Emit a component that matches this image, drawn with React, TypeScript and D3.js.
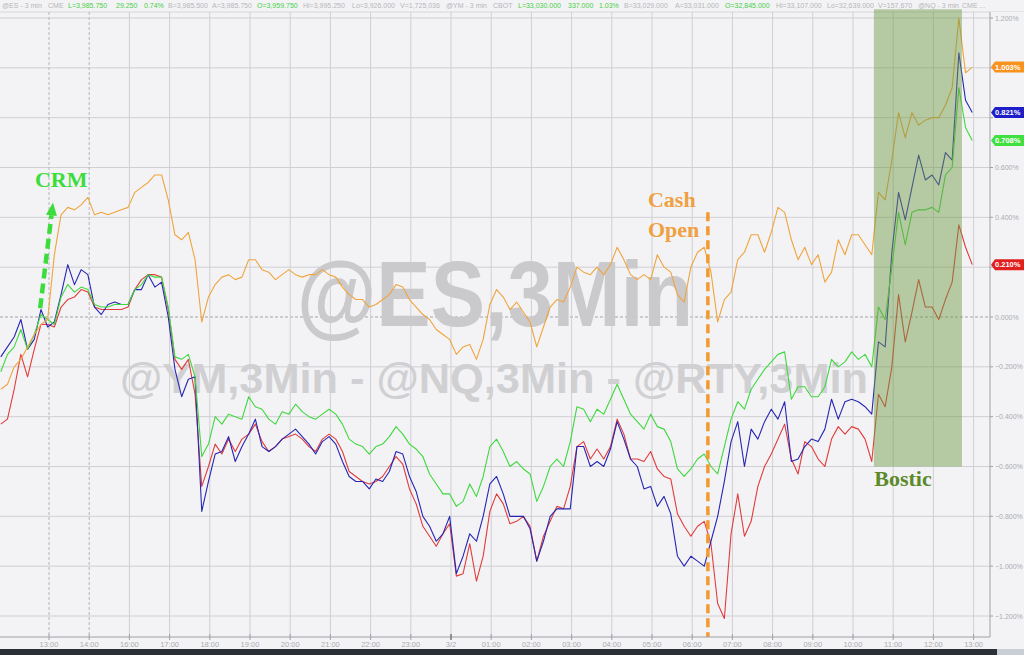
import React from "react";
import * as d3 from "d3";

const W = 1024;
const H = 655;

// x is measured in hours after 13:00 (chart ticks are one per hour, 15:00 skipped)
// one reading every 10 minutes, starting a little before the first tick
const T0 = -1.2;
const STEP = 1 / 6;

const tickLabels = ["13:00", "14:00", "16:00", "17:00", "18:00", "19:00", "20:00", "21:00", "22:00", "23:00", "3/2",
  "01:00", "02:00", "03:00", "04:00", "05:00", "06:00", "07:00", "08:00", "09:00", "10:00", "11:00", "12:00", "13:00"];
const yTicks = [-1.2, -1.0, -0.8, -0.6, -0.4, -0.2, 0, 0.2, 0.4, 0.6, 0.8, 1.0, 1.2];

// % change, orange
const nq = [-0.29, -0.27, -0.20, -0.17, -0.12, -0.07, -0.03, -0.01, 0.25, 0.41,
  0.44, 0.43, 0.45, 0.48, 0.41, 0.42, 0.41, 0.42, 0.43, 0.44,
  0.50, 0.52, 0.54, 0.57, 0.57, 0.47, 0.33, 0.31, 0.34, 0.23,
  -0.02, 0.08, 0.13, 0.16, 0.17, 0.15, 0.16, 0.23, 0.23, 0.19,
  0.18, 0.15, 0.17, 0.19, 0.17, 0.16, 0.17, 0.17, 0.19, 0.17,
  0.16, 0.12, 0.09, 0.07, 0.07, 0.04, 0.05, 0.07, 0.09, 0.13,
  0.12, 0.07, 0.04, 0.01, -0.01, -0.05, -0.07, -0.09, -0.15, -0.12,
  -0.11, -0.17, -0.09, 0.05, 0.11, 0.08, 0.03, 0.06, 0.02, -0.02,
  -0.12, -0.04, 0.04, 0.07, 0.06, 0.12, 0.20, 0.18, 0.17, 0.20,
  0.17, 0.21, 0.28, 0.23, 0.17, 0.15, 0.17, 0.15, 0.25, 0.20,
  0.18, 0.09, 0.06, 0.20, 0.26, 0.28, 0.18, -0.02, 0.07, 0.10,
  0.23, 0.26, 0.33, 0.33, 0.26, 0.34, 0.44, 0.42, 0.31, 0.23,
  0.28, 0.21, 0.25, 0.14, 0.18, 0.31, 0.25, 0.33, 0.33, 0.29,
  0.25, 0.50, 0.47, 0.63, 0.82, 0.72, 0.82, 0.77, 0.79, 0.80,
  0.80, 0.85, 0.92, 1.20, 0.98, 1.003];

// blue
const es = [-0.16, -0.12, -0.08, -0.01, -0.13, -0.09, 0.03, -0.04, -0.02, 0.09,
  0.21, 0.13, 0.19, 0.17, 0.04, 0.01, 0.05, 0.06, 0.05, 0.05,
  0.11, 0.11, 0.17, 0.12, 0.14, 0.00, -0.21, -0.32, -0.25, -0.24,
  -0.78, -0.66, -0.55, -0.54, -0.48, -0.58, -0.52, -0.47, -0.41, -0.52,
  -0.54, -0.52, -0.49, -0.47, -0.45, -0.48, -0.51, -0.55, -0.50, -0.48,
  -0.51, -0.58, -0.64, -0.66, -0.66, -0.69, -0.65, -0.66, -0.62, -0.54,
  -0.55, -0.64, -0.70, -0.80, -0.84, -0.90, -0.87, -0.80, -1.03, -0.96,
  -0.87, -0.90, -0.80, -0.67, -0.64, -0.71, -0.80, -0.80, -0.80, -0.85,
  -0.98, -0.90, -0.80, -0.77, -0.77, -0.77, -0.52, -0.52, -0.60, -0.58,
  -0.60, -0.53, -0.42, -0.49, -0.57, -0.60, -0.69, -0.68, -0.76, -0.72,
  -0.79, -0.96, -1.00, -0.96, -0.98, -1.00, -0.90, -0.80, -0.66, -0.50,
  -0.42, -0.60, -0.45, -0.49, -0.42, -0.37, -0.41, -0.34, -0.58, -0.57,
  -0.52, -0.49, -0.50, -0.45, -0.33, -0.41, -0.34, -0.33, -0.34, -0.36,
  -0.39, -0.10, -0.12, 0.26, 0.50, 0.39, 0.52, 0.65, 0.55, 0.57,
  0.53, 0.66, 0.63, 1.06, 0.87, 0.821];

// green
const ym = [-0.22, -0.15, -0.12, -0.05, -0.13, -0.07, 0.01, -0.01, -0.03, 0.08,
  0.13, 0.10, 0.12, 0.11, 0.05, 0.04, 0.04, 0.05, 0.05, 0.05,
  0.11, 0.13, 0.17, 0.16, 0.16, 0.04, -0.16, -0.17, -0.15, -0.24,
  -0.56, -0.51, -0.40, -0.43, -0.39, -0.40, -0.41, -0.32, -0.36, -0.37,
  -0.41, -0.43, -0.38, -0.39, -0.35, -0.38, -0.40, -0.41, -0.39, -0.37,
  -0.39, -0.43, -0.49, -0.51, -0.52, -0.55, -0.52, -0.51, -0.48, -0.44,
  -0.47, -0.51, -0.53, -0.56, -0.63, -0.67, -0.71, -0.71, -0.76, -0.74,
  -0.67, -0.72, -0.64, -0.52, -0.49, -0.54, -0.60, -0.58, -0.61, -0.63,
  -0.74, -0.68, -0.60, -0.57, -0.60, -0.50, -0.36, -0.37, -0.42, -0.37,
  -0.39, -0.33, -0.27, -0.33, -0.39, -0.42, -0.45, -0.39, -0.44, -0.45,
  -0.50, -0.61, -0.64, -0.61, -0.57, -0.55, -0.60, -0.63, -0.52, -0.41,
  -0.34, -0.37, -0.29, -0.25, -0.21, -0.18, -0.15, -0.14, -0.33, -0.28,
  -0.28, -0.32, -0.32, -0.28, -0.17, -0.20, -0.18, -0.14, -0.17, -0.15,
  -0.20, 0.04, -0.01, 0.20, 0.42, 0.29, 0.42, 0.43, 0.43, 0.44,
  0.42, 0.57, 0.60, 0.92, 0.76, 0.708];

// red
const rty = [-0.43, -0.41, -0.29, -0.15, -0.24, -0.13, -0.03, -0.03, -0.04, 0.04,
  0.07, 0.08, 0.11, 0.10, 0.04, 0.03, 0.03, 0.03, 0.03, 0.04,
  0.11, 0.15, 0.17, 0.17, 0.16, 0.03, -0.17, -0.21, -0.17, -0.31,
  -0.68, -0.60, -0.51, -0.55, -0.49, -0.54, -0.49, -0.47, -0.43, -0.50,
  -0.54, -0.52, -0.49, -0.48, -0.47, -0.49, -0.52, -0.54, -0.49, -0.47,
  -0.49, -0.54, -0.62, -0.64, -0.66, -0.67, -0.66, -0.64, -0.60, -0.56,
  -0.59, -0.69, -0.75, -0.84, -0.88, -0.92, -0.87, -0.83, -1.04, -1.03,
  -0.91, -1.06, -0.96, -0.78, -0.71, -0.75, -0.83, -0.82, -0.80, -0.84,
  -0.98, -0.88, -0.82, -0.76, -0.77, -0.68, -0.52, -0.50, -0.57, -0.53,
  -0.57, -0.52, -0.41, -0.47, -0.57, -0.57, -0.58, -0.54, -0.61, -0.64,
  -0.65, -0.79, -0.84, -0.88, -0.84, -0.82, -0.91, -1.15, -1.21, -0.87,
  -0.71, -0.88, -0.82, -0.68, -0.60, -0.55, -0.49, -0.43, -0.57, -0.63,
  -0.50, -0.52, -0.57, -0.60, -0.49, -0.44, -0.47, -0.44, -0.45, -0.49,
  -0.58, -0.31, -0.36, -0.20, 0.09, -0.10, 0.02, 0.15, 0.04, 0.04,
  -0.01, 0.07, 0.14, 0.37, 0.28, 0.21];

const series = [
  { name: "RTY", values: rty, stroke: "#e23b3b", tag: "#e21f1f" },
  { name: "ES", values: es, stroke: "#2626b4", tag: "#1e1ec8" },
  { name: "YM", values: ym, stroke: "#3fd83f", tag: "#3fe03f" },
  { name: "NQ", values: nq, stroke: "#f0a43c", tag: "#f7931e" },
];

const headerParts: [string, boolean][] = [
  ["@ES - 3 min", false], ["CME", false], ["L=3,985.750", true], ["29.250", true], ["0.74%", true],
  ["B=3,985.500", false], ["A=3,985.750", false], ["O=3,959.750", true], ["Hi=3,995.250", false],
  ["Lo=3,926.000", false], ["V=1,725,036", false], ["@YM - 3 min", false], ["CBOT", false],
  ["L=33,030.000", true], ["337.000", true], ["1.03%", true], ["B=33,029.000", false],
  ["A=33,031.000", false], ["O=32,845.000", true], ["Hi=33,107.000", false], ["Lo=32,639.000", false],
  ["V=157,670", false], ["@NQ - 3 min", false], ["CME ...", false],
];
const headerX = [2, 48, 68, 116, 144, 168, 212, 257, 303, 352, 400, 446, 493, 518, 568, 599, 624,
  675, 725, 776, 827, 878, 918, 962];

const App: React.FC = () => {
  const x = d3.scaleLinear().domain([0, 23]).range([49, 973.6]);
  const y = d3.scaleLinear().domain([-1.2, 1.2]).range([616, 18]);
  const plotRight = 990;
  const plotTop = 12;
  const axisY = 637;

  const line = d3.line<number>()
    .x((_, i) => x(T0 + i * STEP))
    .y((d) => y(d));

  const fmt = (v: number) => d3.format(".3f")(v) + "%";

  // the coloured last-value tags hide the axis labels they sit on
  const lastYs = series.map((s) => y(s.values[s.values.length - 1]));
  const hidden = (v: number) => lastYs.some((ty) => Math.abs(ty - y(v)) < 9);

  // CRM arrow
  const a0 = [x(-0.22), y(0.035)];
  const a1 = [x(0.1), y(0.46)];
  const dx = a1[0] - a0[0], dy = a1[1] - a0[1];
  const len = Math.hypot(dx, dy);
  const ux = dx / len, uy = dy / len;
  const headLen = 13, headW = 5.5;
  const bx = a1[0] - ux * headLen, by = a1[1] - uy * headLen;
  const head = `M${a1[0]},${a1[1]} L${bx - uy * headW},${by + ux * headW} L${bx + uy * headW},${by - ux * headW} Z`;

  const cashX = x(16.39);
  const bostic0 = x(20.52), bostic1 = x(22.71);

  return (
    <svg width={W} height={H} style={{ display: "block" }} fontFamily="'Liberation Sans', Arial, sans-serif">
      <style>{`body{margin:0;}`}</style>
      <rect width={W} height={H} fill="#f3f3f5" />

      {/* header */}
      {headerParts.map(([t, g], i) => (
        <text key={i} x={headerX[i]} y={8} fontSize={7} fill={g ? "#47cf47" : "#b6b6ba"}>{t}</text>
      ))}
      <line x1={0} x2={W} y1={plotTop} y2={plotTop} stroke="#d6d6da" />

      {/* grid */}
      {yTicks.map((v) => (
        <line key={v} x1={0} x2={plotRight} y1={y(v)} y2={y(v)}
          stroke={v === 0 ? "#a4a4aa" : "#cfcfd4"} strokeDasharray={v === 0 ? "3,2" : undefined} />
      ))}
      {tickLabels.map((t, i) => (
        <line key={i} x1={x(i)} x2={x(i)} y1={plotTop} y2={axisY}
          stroke={i < 2 ? "#b4b4bc" : "#cfcfd4"} strokeDasharray={i < 2 ? "3,2" : undefined} />
      ))}

      {/* watermark */}
      <text x={297} y={326} fontSize={92} fontWeight="bold" fill="#cacacd" textLength={396} lengthAdjust="spacingAndGlyphs">@ES,3Min</text>
      <text x={120} y={393} fontSize={42} fontWeight="bold" fill="#d0d0d3" textLength={748} lengthAdjust="spacingAndGlyphs">@YM,3Min - @NQ,3Min - @RTY,3Min</text>

      {/* series */}
      <g fill="none" strokeWidth={1.1} strokeLinejoin="round">
        {series.map((s) => (
          <path key={s.name} d={line(s.values) || ""} stroke={s.stroke} />
        ))}
      </g>

      {/* Bostic shading */}
      <rect x={bostic0} y={y(1.235)} width={bostic1 - bostic0} height={y(-0.6) - y(1.235)} fill="#6f9a45" opacity={0.47} />
      <text x={x(20.53)} y={y(-0.68)} fontSize={22} fontWeight="bold" fill="#5b8a2a" fontFamily="'Liberation Serif', 'Times New Roman', serif">Bostic</text>

      {/* CRM */}
      <line x1={a0[0]} y1={a0[1]} x2={bx} y2={by} stroke="#3ddc3d" strokeWidth={4.5} strokeDasharray="10,5" />
      <path d={head} fill="#3ddc3d" />
      <text x={x(-0.35)} y={y(0.52)} fontSize={22} fontWeight="bold" fill="#3ddc3d" fontFamily="'Liberation Serif', 'Times New Roman', serif">CRM</text>

      {/* Cash open */}
      <line x1={cashX} x2={cashX} y1={y(0.42)} y2={axisY} stroke="#f29a2e" strokeWidth={3.5} strokeDasharray="9,5" />
      <g fontSize={22} fontWeight="bold" fill="#f0a040" fontFamily="'Liberation Serif', 'Times New Roman', serif">
        <text x={x(14.9)} y={y(0.44)}>Cash</text>
        <text x={x(14.9)} y={y(0.32)}>Open</text>
      </g>

      {/* right axis */}
      <rect x={plotRight} y={plotTop} width={W - plotRight} height={axisY - plotTop} fill="#f3f3f5" />
      <line x1={plotRight} x2={plotRight} y1={plotTop} y2={axisY} stroke="#a0a0a6" />
      {yTicks.map((v) => (
        <g key={v}>
          <line x1={plotRight} x2={plotRight + 3} y1={y(v)} y2={y(v)} stroke="#a0a0a6" />
          {!hidden(v) && (
            <text x={plotRight + 5} y={y(v) + 2.5} fontSize={7} fill="#ababb0">{fmt(v)}</text>
          )}
        </g>
      ))}
      {series.map((s, k) => {
        const v = s.values[s.values.length - 1];
        const ty = lastYs[k];
        return (
          <g key={s.name}>
            <path d={`M${plotRight + 1},${ty} L${plotRight + 5},${ty - 5.5} L${W},${ty - 5.5} L${W},${ty + 5.5} L${plotRight + 5},${ty + 5.5} Z`} fill={s.tag} />
            <text x={plotRight + 5} y={ty + 2.6} fontSize={7.5} fontWeight="bold" fill="#ffffff">{fmt(v)}</text>
          </g>
        );
      })}

      {/* bottom axis */}
      <line x1={0} x2={plotRight} y1={axisY} y2={axisY} stroke="#a0a0a6" />
      {tickLabels.map((t, i) => (
        <g key={i}>
          <line x1={x(i)} x2={x(i)} y1={axisY - 3} y2={axisY + 3} stroke={t === "3/2" ? "#777" : "#a0a0a6"} strokeWidth={t === "3/2" ? 1.5 : 1} />
          <text x={x(i)} y={647} fontSize={7.5} textAnchor="middle" fill="#ababb0">{t}</text>
        </g>
      ))}
      <rect x={0} y={649} width={W} height={H - 649} fill="#2b2f38" />
      <rect x={997} y={649} width={W - 997} height={H - 649} fill="#c9cdd5" />
    </svg>
  );
};

export default App;
